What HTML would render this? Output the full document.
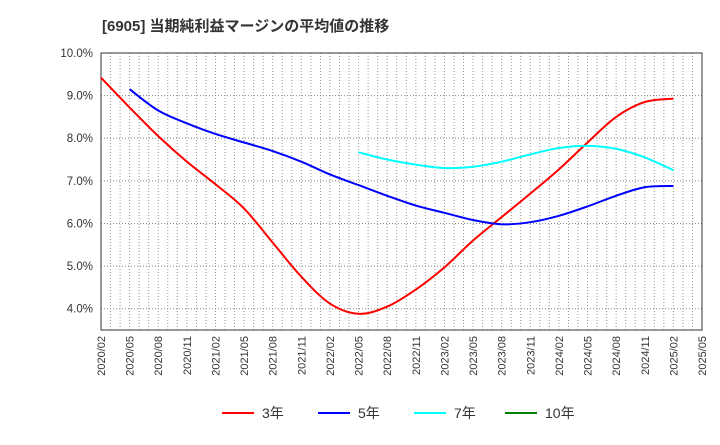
<!DOCTYPE html>
<html><head><meta charset="utf-8"><style>
body{margin:0;background:#fff;font-family:"Liberation Sans","Noto Sans CJK JP",sans-serif}
</style></head><body>
<svg width="720" height="440" viewBox="0 0 720 440" xmlns="http://www.w3.org/2000/svg">
<text x="102" y="31" font-size="15" font-weight="bold" fill="#333" font-family="Liberation Sans, Noto Sans CJK JP, sans-serif">[6905]  当期純利益マージンの平均値の推移</text>
<g id="grid"></g><g id="axes"></g><g id="series"></g><g id="legend"></g>
</svg>
<script>
const months = [0,3,6,9,12,15,18,21,24,27,30,33,36,39,42,45,48,51,54,57,60];
const s3 = [9.42,8.72,8.05,7.45,6.92,6.35,5.55,4.75,4.12,3.88,4.05,4.45,4.97,5.6,6.15,6.7,7.27,7.9,8.5,8.85,8.93];
const s5 = [null,9.15,8.65,8.35,8.1,7.9,7.7,7.45,7.15,6.9,6.65,6.42,6.25,6.08,5.98,6.03,6.18,6.4,6.65,6.85,6.88];
const s7 = [null,null,null,null,null,null,null,null,null,7.67,7.5,7.38,7.3,7.33,7.45,7.62,7.77,7.82,7.75,7.55,7.25];
const yTicks = [4,5,6,7,8,9,10];
const xLabels = ["2020/02","2020/05","2020/08","2020/11","2021/02","2021/05","2021/08","2021/11","2022/02","2022/05","2022/08","2022/11","2023/02","2023/05","2023/08","2023/11","2024/02","2024/05","2024/08","2024/11","2025/02","2025/05"];
const L=101,R=702,T=53,B=330,NM=63,YMIN=3.5,YMAX=10;
const xs=m=>L+(R-L)*m/NM, ys=v=>B-(B-T)*(v-YMIN)/(YMAX-YMIN);
const NS="http://www.w3.org/2000/svg";
function mk(t,a,p){const e=document.createElementNS(NS,t);for(const k in a)e.setAttribute(k,a[k]);p.appendChild(e);return e;}
const grid=document.getElementById('grid'),axes=document.getElementById('axes'),ser=document.getElementById('series'),leg=document.getElementById('legend');
for(let m=1;m<NM;m++){const l=mk('line',{x1:xs(m),x2:xs(m),y1:T,y2:B,stroke:'#999','stroke-width':1,'stroke-dasharray':'1,2'},grid);

}
yTicks.forEach(v=>{const l=mk('line',{x1:L,x2:R,y1:ys(v),y2:ys(v),stroke:'#888','stroke-width':1,'stroke-dasharray':'1,2'},grid);


const t=mk('text',{x:L-8,y:ys(v)+4,'text-anchor':'end','font-size':11.5,fill:'#333'},axes);t.textContent=v.toFixed(1)+'%';

});
const fr=mk('rect',{x:L,y:T,width:R-L,height:B-T,fill:'none',stroke:'#333','stroke-width':1},axes);


xLabels.forEach((s,i)=>{const x=xs(i*3)+4;const t=mk('text',{x:x,y:B+6,'text-anchor':'end','font-size':11,fill:'#333',transform:`rotate(-90 ${x} ${B+6})`},axes);t.textContent=s;

});
function path(vals){const p=[];vals.forEach((v,i)=>{if(v!=null)p.push([xs(months[i]),ys(v)]);});
let d=`M${p[0][0]},${p[0][1]}`;for(let i=0;i<p.length-1;i++){const p0=p[i-1]||p[i],p1=p[i],p2=p[i+1],p3=p[i+2]||p2;
d+=` C${p1[0]+(p2[0]-p0[0])/6},${p1[1]+(p2[1]-p0[1])/6} ${p2[0]-(p3[0]-p1[0])/6},${p2[1]-(p3[1]-p1[1])/6} ${p2[0]},${p2[1]}`;}return d;}
const series=[[s3,'#ff0000','3年','line-3yr'],[s5,'#0000ff','5年','line-5yr'],[s7,'#00ffff','7年','line-7yr'],[null,'#008000','10年','line-10yr']];
const lx=[222,318,414,505];
series.forEach((s,i)=>{if(s[0]){const e=mk('path',{d:path(s[0]),fill:'none',stroke:s[1],'stroke-width':2},ser);

}
const g=mk('g',{},leg);


mk('line',{x1:lx[i],x2:lx[i]+32,y1:413,y2:413,stroke:s[1],'stroke-width':2},g);
const t=mk('text',{x:lx[i]+40,y:418,'font-size':14,fill:'#333'},g);t.textContent=s[2];});
</script>
</body></html>
